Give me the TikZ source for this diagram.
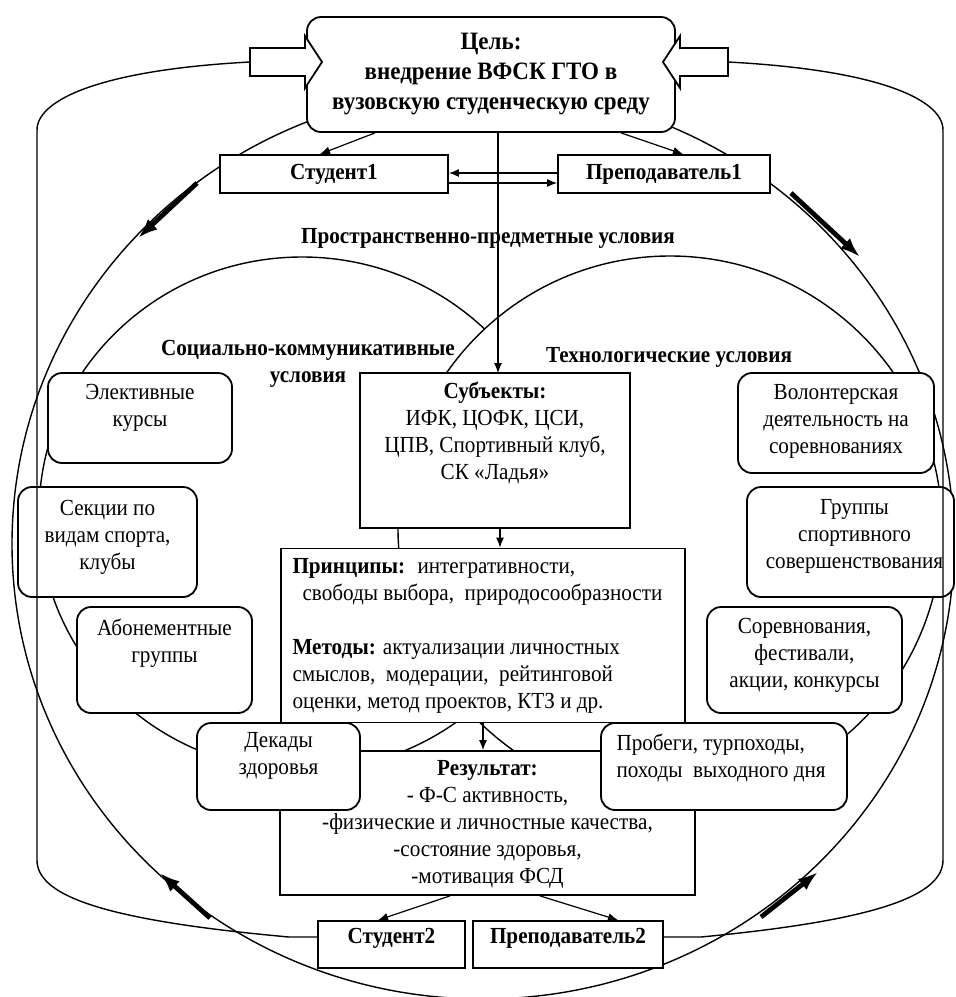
\documentclass[tikz,border=0pt]{standalone}
\usepackage{fontspec}
\setmainfont[FakeStretch=0.92]{Liberation Serif}
\usetikzlibrary{arrows.meta}

\begin{document}
\begin{tikzpicture}[x=0.5pt,y=-0.5pt,
    font=\fontsize{11.5}{13.5}\selectfont,
    ring/.style={line width=0.7pt},
    sq/.style={draw,fill=white,line width=0.9pt,inner sep=0pt},
    rsq/.style={sq,rounded corners=7pt},
    txt/.style={anchor=north,align=center,inner sep=0pt},
    hd/.style={font=\fontsize{11.5}{13.5}\selectfont\bfseries,align=center,inner sep=0pt},
    arr/.style={-{Latex[length=5pt,width=4pt]},line width=0.6pt},
    fat/.style={-{Latex[length=10pt,width=7pt]},line width=2.4pt},
    back/.style={line width=0.7pt}]
  \useasboundingbox (0,0) rectangle (956,997);
  \clip (0,0) rectangle (956,997);

  \draw[ring] (483,544) ellipse [x radius=235.5pt, y radius=227.5pt];
  \draw[ring,fill=white] (302,514) ellipse [x radius=131.5pt, y radius=128.5pt];
  \draw[ring,fill=white] (670,528) circle [radius=136pt];

  \node[hd] (prost) at (488,238) {Пространственно-предметные условия};
  \node[hd] (soc) at (308,364) {Социально-коммуникативные\\условия};
  \node[hd] (tech) at (669,357) {Технологические условия};

  \node[rsq,minimum width=184pt,minimum height=57.5pt,
        font=\fontsize{12.5}{15}\selectfont\bfseries,align=center] (goal) at (491,74.5)
        {Цель:\\внедрение ВФСК ГТО в\\вузовскую студенческую среду};
  \node[sq,hd,minimum width=114pt,minimum height=19pt] (s1) at (334,174) {Студент1};
  \node[sq,hd,minimum width=106pt,minimum height=19pt] (t1) at (664,174) {Преподаватель1};

  \draw[arr] ([xshift=3.5pt]goal.south) -- ([xshift=3.5pt]goal.south |- 0,373);

  \node[sq,minimum width=135pt,minimum height=77.5pt] (subj) at (495,450.5) {};
  \node[txt] at ([yshift=-5pt]subj.north) {\textbf{Субъекты:}\\ИФК, ЦОФК, ЦСИ,\\ЦПВ, Спортивный клуб,\\СК «Ладья»};
  \node[sq,minimum width=202pt,minimum height=87pt] (princ) at (483,635.5) {};
  \node[txt,anchor=north west,align=left] at ([xshift=6pt,yshift=-5pt]princ.north west)
    {\textbf{Принципы:}~ интегративности,\\
     \hspace*{5pt}свободы выбора,~ природосообразности\\[13.5pt]
     \textbf{Методы:} актуализации личностных\\
     смыслов,~ модерации,~ рейтинговой\\
     оценки, метод проектов, КТЗ и др.};
  \node[sq,minimum width=207.5pt,minimum height=72pt] (res) at (487.5,823) {};
  \node[txt] at ([yshift=-5pt]res.north) {\textbf{Результат:}\\- Ф-С активность,\\-физические и личностные качества,\\-состояние здоровья,\\-мотивация ФСД};

  \node[rsq,minimum width=92pt,minimum height=45pt] (elect) at (140,418) {};
  \node[txt] at ([yshift=-6pt]elect.north) {Элективные\\курсы};
  \node[rsq,minimum width=89.5pt,minimum height=55pt] (sect) at (107.5,542) {};
  \node[txt] at ([yshift=-7pt]sect.north) {Секции по\\видам спорта,\\клубы};
  \node[rsq,minimum width=87.5pt,minimum height=53pt] (abon) at (164.5,660) {};
  \node[txt] at ([yshift=-6.5pt]abon.north) {Абонементные\\группы};
  \node[rsq,minimum width=81.5pt,minimum height=43.5pt] (dec) at (278.5,766.5) {};
  \node[txt] at ([yshift=-5pt]dec.north) {Декады\\здоровья};

  \node[rsq,minimum width=98pt,minimum height=50pt] (vol) at (836,423) {};
  \node[txt] at ([yshift=-6pt]vol.north) {Волонтерская\\деятельность на\\соревнованиях};
  \node[rsq,minimum width=103.5pt,minimum height=55pt] (grp) at (850.5,542) {};
  \node[txt] at ([xshift=2pt,yshift=-6.5pt]grp.north) {Группы\\спортивного\\совершенствования};
  \node[rsq,minimum width=97.5pt,minimum height=53pt] (comp) at (804.5,660) {};
  \node[txt] at ([yshift=-6pt]comp.north) {Соревнования,\\фестивали,\\акции, конкурсы};
  \node[rsq,minimum width=123pt,minimum height=43.5pt] (prob) at (724,766.5) {};
  \node[txt,anchor=north west,align=left] at ([xshift=8pt,yshift=-6pt]prob.north west) {Пробеги, турпоходы,\\походы~ выходного дня};

  \node[sq,minimum width=73.5pt,minimum height=23.5pt] (s2) at (391.5,944.5) {};
  \node[txt,hd,anchor=north] at ([yshift=-4pt]s2.north) {Студент2};
  \node[sq,minimum width=95pt,minimum height=23.5pt] (t2) at (568,944.5) {};
  \node[txt,hd,anchor=north] at ([yshift=-4pt]t2.north) {Преподаватель2};

  \draw[arr] ([xshift=-58pt]goal.south) -- ([xshift=-7pt]s1.north);
  \draw[arr] ([xshift=65pt]goal.south) -- ([xshift=9.5pt]t1.north);
  \draw[arr] ([yshift=0.5pt]t1.west) -- ([yshift=0.5pt]s1.east);
  \draw[arr] ([yshift=-4.5pt]s1.east) -- ([yshift=-4.5pt]t1.west);
  \draw[arr] ([xshift=2.5pt]subj.south) -- ([xshift=2.5pt]subj.south |- princ.north);
  \draw[arr] (princ.south) -- (princ.south |- res.north);
  \draw[arr] ([xshift=-18.75pt]res.south) -- ([xshift=-6.75pt]s2.north);
  \draw[arr] ([xshift=26.25pt]res.south) -- ([xshift=25pt]t2.north);

  \coordinate (ltail) at (250,62);
  \coordinate (rtail) at (728,62);
  \draw[sq] (250,48) -- (305,48) -- (305,36) -- (322,62) -- (305,88) -- (305,76) -- (250,76) -- cycle;
  \draw[sq] (728,48) -- (680,48) -- (680,36) -- (663,62) -- (680,88) -- (680,76) -- (728,76) -- cycle;

  \draw[back] ([yshift=3.75pt]s2.west) -- ++(-28,0) .. controls (100,920) and (37,895) .. (37,860)
    -- (37,130) .. controls (37,100) and (100,70) .. (ltail);
  \draw[back] ([yshift=3.75pt]t2.east) -- ++(37,0) .. controls (880,920) and (943,895) .. (943,860)
    -- (943,130) .. controls (943,100) and (880,70) .. (rtail);

  \draw[fat] (197,183) -- (138,238);
  \draw[fat] (791,193) -- (860,257);
  \draw[fat] (210,918) -- (160,873);
  \draw[fat] (761,917) -- (818,872);
\end{tikzpicture}
\end{document}
